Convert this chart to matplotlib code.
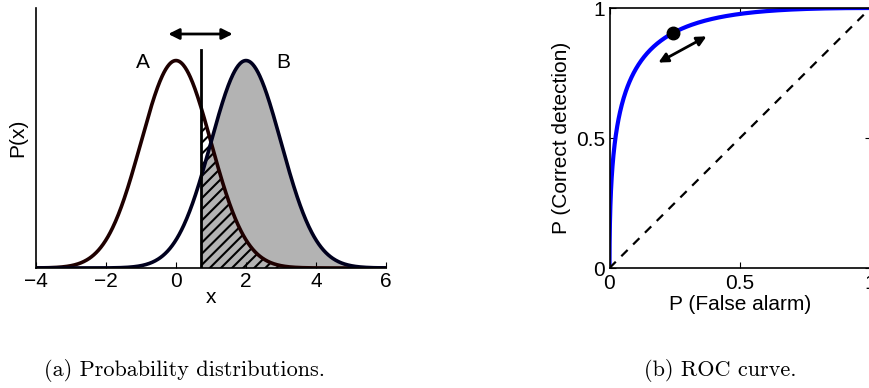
import numpy as np
import matplotlib
matplotlib.use('Agg')
import matplotlib.pyplot as plt
from math import erf, sqrt

# distributions
mu_a, mu_b = 0.0, 2.0
sd = 1.0
thresh = 0.7
shift = 1.0                     # arrow half-length around the threshold
xticks_left = [-4, -2, 0, 2, 4, 6]
roc_ticks = [0, 0.5, 1]
roc_labels = ['0', '0.5', '1']
roc_arrow = [(0.178, 0.785), (0.381, 0.896)]
captions = ['(a) Probability distributions.', '(b) ROC curve.']

plt.rcParams['font.family'] = ['Liberation Sans', 'DejaVu Sans']
plt.rcParams['hatch.linewidth'] = 1.5


def pdf(x, m):
    return np.exp(-0.5 * ((x - m) / sd) ** 2) / (sd * np.sqrt(2 * np.pi))


def sf(t, m):
    return 0.5 * (1 - np.vectorize(erf)((t - m) / (sd * sqrt(2))))


fig = plt.figure(figsize=(8.69, 3.88), dpi=100)

# ---- (a) distributions
ax = fig.add_axes([36 / 869, 1 - 268 / 388, 350 / 869, 260 / 388])
x = np.linspace(-4, 6, 600)
ya = pdf(x, mu_a)
yb = pdf(x, mu_b)
xr = x[x >= thresh]
ax.fill_between(xr, 0, pdf(xr, mu_b), color='#b3b3b3', lw=0)
ax.fill_between(xr, 0, pdf(xr, mu_a), facecolor='none', edgecolor='k', hatch='///', lw=0)
ax.plot(x, ya, color='#1e0000', lw=2.6)
ax.plot(x, yb, color='#00001e', lw=2.6)
ax.plot([thresh, thresh], [0, 0.419], color='k', lw=2)
ax.annotate('', xy=(thresh - shift, 0.45), xytext=(thresh + shift, 0.45),
            arrowprops=dict(arrowstyle='<|-|>', color='k', lw=2, mutation_scale=16))
ax.text(-0.95, 0.396, 'A', fontsize=15, ha='center', va='center')
ax.text(3.05, 0.396, 'B', fontsize=15, ha='center', va='center')
ax.set_xlim(-4, 6)
ax.set_ylim(0, 0.5)
ax.set_xticks(xticks_left)
ax.set_yticks([])
ax.tick_params(axis='x', direction='in', length=4, labelsize=15, pad=3)
ax.spines['top'].set_visible(False)
ax.spines['right'].set_visible(False)
ax.set_xlabel('x', fontsize=15, labelpad=-2)
ax.set_ylabel('P(x)', fontsize=15, labelpad=6)

# ---- (b) ROC
ax2 = fig.add_axes([609.5 / 869, 1 - 268 / 388, 261 / 869, 260 / 388])
t = np.linspace(-6, 8, 800)
fa = sf(t, mu_a)
hit = sf(t, mu_b)
ax2.plot(fa, hit, color='#0000ff', lw=3, solid_capstyle='butt')
ax2.plot([0, 1], [0, 1], 'k--', lw=1.6, dashes=(4, 3.5))
ax2.plot(sf(thresh, mu_a), sf(thresh, mu_b), 'o', color='k', ms=9)
ax2.annotate('', xy=roc_arrow[0], xytext=roc_arrow[1],
             arrowprops=dict(arrowstyle='<|-|>', color='k', lw=2, mutation_scale=14))
ax2.set_xlim(0, 1)
ax2.set_ylim(0, 1)
ax2.set_xticks(roc_ticks)
ax2.set_xticklabels(roc_labels)
ax2.set_yticks(roc_ticks)
ax2.set_yticklabels(roc_labels)
ax2.tick_params(direction='in', length=4, labelsize=15, top=True, right=True)
ax2.tick_params(axis='x', pad=4)
ax2.tick_params(axis='y', pad=3)
ax2.set_xlabel('P (False alarm)', fontsize=15, labelpad=2)
ax2.set_ylabel('P (Correct detection)', fontsize=15, labelpad=4)
for s in ax2.spines.values():
    s.set_linewidth(1.2)
for s in ['left', 'bottom']:
    ax.spines[s].set_linewidth(1.2)

fig.text(184 / 869, 1 - 371 / 388, captions[0], fontsize=16, family='cmr10',
         ha='center', va='center')
fig.text(720 / 869, 1 - 371 / 388, captions[1], fontsize=16, family='cmr10',
         ha='center', va='center')

fig.savefig('out.png', dpi=100)
